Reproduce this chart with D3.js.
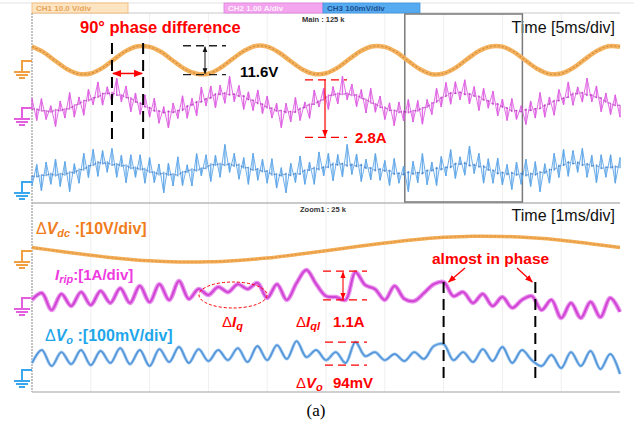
<!DOCTYPE html>
<html>
<head>
<meta charset="utf-8">
<script src="https://cdn.jsdelivr.net/npm/d3@7"></script>
<style>
  body { margin: 0; background: #fff; }
  svg { display: block; font-family: "Liberation Sans", Arial, sans-serif; }
</style>
</head>
<body>
<div id="chart"></div>
<script>
// ---- data ----
// main window, 0..50 ms
const mainVdc = [6.1, 3.7, 0.0, -3.5, -5.5, -5.3, -2.9, 0.8, 4.3, 6.3,
                 6.0, 3.8, 0.1, -3.4, -5.4, -5.4, -3.0, 0.7, 4.2, 6.4,
                 6.1, 3.6, -0.1, -3.6, -5.5, -5.2, -2.8, 0.9, 4.4, 6.3,
                 6.0, 3.7, 0.0, -3.5, -5.6, -5.3, -2.9, 0.8, 4.3, 6.2,
                 6.1, 3.8, 0.1, -3.4, -5.5, -5.3, -3.0, 0.7, 4.2, 6.3, 6.1]; // V, 1 ms step
const mainIrip = [0.41, -0.53, 0.40, -0.49, 0.10, -0.79, 0.30, -0.43, 0.66, -0.39, 0.47, -0.31, 0.79, 0.14, 1.11, 0.12, 0.90, 0.25, 1.27, 0.26, 0.94, -0.16, 0.64, -0.28, 0.56,
                  -0.39, 0.42, -0.65, 0.06, -0.85, 0.21, -0.45, 0.52, -0.44, 0.41, -0.33, 0.89, 0.09, 0.94, 0.01, 0.97, 0.20, 1.35, 0.27, 0.96, -0.06, 0.69, -0.11, 0.77, -0.24,
                  0.51, -0.43, 0.20, -0.84, 0.20, -0.59, 0.45, -0.53, 0.26, -0.44, 0.77, 0.04, 0.84, -0.06, 0.91, 0.17, 1.35, 0.35, 1.02, 0.06, 0.79, -0.21, 0.84, -0.18, 0.51,
                  -0.49, 0.22, -0.75, 0.26, -0.55, 0.36, -0.60, 0.32, -0.69, 0.36, -0.28, 0.84, 0.04, 1.09, 0.16, 1.12, 0.35, 1.20, 0.17, 0.91, -0.11, 0.84, -0.01, 0.72, -0.34,
                  0.38, -0.53, 0.40, -0.49, 0.10, -0.70, 0.30, -0.43, 0.66, -0.39, 0.47, -0.31, 0.79, 0.14, 1.11, 0.12, 0.90, 0.25, 1.27, 0.26, 0.94, -0.16, 0.64, -0.28, 0.56, -0.39]; // A, 0.4 ms step
const mainVo = [-17, 75, -37, 85, -10, 97, -19, 87, -41, 78, -5, 122, 19, 139, 24, 134, 41, 143, 20, 114, -3, 116, 20, 116, -5,
                104, -3, 77, -46, 80, -17, 107, -15, 73, -17, 121, 26, 116, 2, 114, 20, 160, 41, 122, 12, 104, -10, 122, 7, 97,
                -5, 99, -26, 61, -46, 80, -2, 111, -10, 85, -10, 128, 26, 122, 5, 117, 22, 160, 32, 119, 2, 97, 9, 121, 7,
                92, -15, 100, -5, 68, -41, 88, -3, 121, -12, 85, -15, 109, 26, 138, 15, 107, 29, 153, 36, 122, -5, 99, -5, 102,
                -12, 75, -32, 85, -10, 97, -19, 87, -41, 78, -5, 122, 19, 139, 24, 134, 41, 143, 20, 114, -3, 116, 20, 116, -5, 104]; // mV, 0.4 ms step

// zoom window, 0..10 ms
const zoomVdc = [1.5, -0.2, -1.8, -3.2, -4.2, -4.65, -4.6, -4.0, -3.0, -1.5, 0.1,
                 1.8, 3.4, 4.8, 5.8, 6.3, 6.2, 5.6, 4.6, 3.1, 1.5]; // V, 0.5 ms step
const zoomIrip = [-0.08, 0.21, -0.51, 0.17, -0.34, 0.25, -0.30, 0.30, -0.21, 0.42,
                  -0.21, 0.51, -0.17, 0.59, -0.08, 0.72, -0.04, 0.38, 0.13, 0.47,
                  0.25, 0.59, 0.38, 0.64, 0.00, 0.59, -0.08, 0.64, 1.19, 0.59,
                  0.08, 0.04, -0.08, 1.10, 0.55, 0.38, -0.08, 0.51, -0.04, -0.13,
                  0.21, 0.59, 0.68, 0.08, 0.25, -0.21, 0.17, -0.34, 0.04, -0.42,
                  -0.08, 0.08, -0.51, -0.08, -0.85, -0.21, -0.85, -0.17, -0.81, 0.00, -0.59]; // A, 1/6 ms step
const zoomVo = [30, 85, 17, 76, 25, 85, 21, 81, 30, 93,
                25, 85, 17, 89, 34, 98, 30, 89, 38, 85,
                42, 93, 34, 102, 42, 106, 47, 123, 55, 85,
                42, 76, 30, 119, 59, 76, 42, 68, 38, 76,
                47, 102, 110, 42, 76, 34, 89, 38, 98, 30,
                85, 42, 17, 64, 8, 76, 17, 81, 4, 68, -17]; // mV, 1/6 ms step

const channelLabels = ["CH1  10.0 V/div", "CH2  1.00 A/div", "CH3  100mV/div"];
const windowLabels = ["Main : 125 k", "Zoom1 : 25 k"];
const timeLabels = ["Time [5ms/div]", "Time [1ms/div]"];
const zoomSpan = [31.7, 41.7]; // ms of the main record shown below

// ---- layout ----
const W = 634, H = 427;
const left = 32, right = 620;
const divPx = 23.5;
const mainTop = 13, mainBot = 203, zoomBot = 392;

const svg = d3.select("#chart").append("svg").attr("width", W).attr("height", H);

const defs = svg.append("defs");
function arrow(id, color) {
  defs.append("marker").attr("id", id).attr("viewBox", "0 0 10 10")
    .attr("refX", 9).attr("refY", 5).attr("markerWidth", 6).attr("markerHeight", 6)
    .attr("orient", "auto-start-reverse")
    .append("path").attr("d", "M0,1L10,5L0,9z").attr("fill", color);
}
arrow("arR", "#f00");
arrow("arK", "#111");

const xMain = d3.scaleLinear().domain([0, 50]).range([left, right]);
const xZoom = d3.scaleLinear().domain([0, 10]).range([left, right]);

// y scale of one trace: ground level in px, units per division
function yTrace(ground, perDiv) {
  return d3.scaleLinear().domain([0, perDiv]).range([ground, ground - divPx]);
}
const yMV = yTrace(61, 10), yMI = yTrace(108, 1), yMO = yTrace(182, 100);
const yZV = yTrace(251, 10), yZI = yTrace(298, 1), yZO = yTrace(370, 100);

// faint graticule
const grid = svg.append("g").attr("stroke", "#efefef").attr("stroke-width", 1);
grid.selectAll(".gx").data(d3.range(1, 10)).join("line")
  .attr("x1", d => xMain(d * 5)).attr("x2", d => xMain(d * 5))
  .attr("y1", mainTop).attr("y2", zoomBot);

// frame
svg.append("line").attr("x1", 0).attr("x2", W).attr("y1", 3).attr("y2", 3).attr("stroke", "#e4e4e4");
svg.append("line").attr("x1", left).attr("x2", right).attr("y1", mainTop).attr("y2", mainTop).attr("stroke", "#c8c8c8");
svg.append("line").attr("x1", left).attr("x2", right).attr("y1", mainBot).attr("y2", mainBot).attr("stroke", "#b8b8b8").attr("stroke-width", 1.5);
svg.append("line").attr("x1", left).attr("x2", right).attr("y1", zoomBot).attr("y2", zoomBot).attr("stroke", "#c0c0c0").attr("stroke-width", 1.5);
svg.append("line").attr("x1", left).attr("x2", left).attr("y1", mainTop).attr("y2", zoomBot)
  .attr("stroke", "#b0b0b0").attr("stroke-width", 1.5).attr("stroke-dasharray", "2,1");

// channel boxes
const boxes = [
  { x0: 32, x1: 128, fill: "#fde4c2", stroke: "#f2b46a", text: "#e8a458" },
  { x0: 224, x1: 323, fill: "#f3a6ee", stroke: "#e080e0", text: "#fff0ff" },
  { x0: 323, x1: 420, fill: "#56aaf0", stroke: "#3f96e0", text: "#1d4f8f" }
];
boxes.forEach((b, i) => {
  svg.append("rect").attr("x", b.x0).attr("y", 3).attr("width", b.x1 - b.x0).attr("height", 10)
    .attr("fill", b.fill).attr("stroke", b.stroke).attr("stroke-width", 0.8);
  svg.append("text").attr("x", b.x0 + 4).attr("y", 11).attr("font-size", 8).attr("font-weight", "bold")
    .attr("fill", b.text).text(channelLabels[i]);
});

svg.append("text").attr("x", 302).attr("y", 22).attr("font-size", 7.5).attr("font-weight", "bold")
  .attr("fill", "#333").text(windowLabels[0]);
svg.append("text").attr("x", 300).attr("y", 212).attr("font-size", 7.5).attr("font-weight", "bold")
  .attr("fill", "#333").text(windowLabels[1]);
svg.append("text").attr("x", 615).attr("y", 33).attr("font-size", 16).attr("text-anchor", "end")
  .attr("fill", "#111").text(timeLabels[0]);
svg.append("text").attr("x", 615).attr("y", 221).attr("font-size", 16).attr("text-anchor", "end")
  .attr("fill", "#111").text(timeLabels[1]);

// zoom window box on main record
svg.append("rect").attr("x", xMain(zoomSpan[0])).attr("y", mainTop + 1)
  .attr("width", xMain(zoomSpan[1]) - xMain(zoomSpan[0])).attr("height", mainBot - mainTop - 2)
  .attr("fill", "none").attr("stroke", "#7a7a7a").attr("stroke-width", 1.5);

// ground markers
function groundMark(y0, color) {
  const g = svg.append("g").attr("stroke", color).attr("stroke-width", 2).attr("fill", "none");
  g.append("path").attr("d", `M${left},${y0}H22V${y0 + 11}`);
  g.append("path").attr("d", `M14,${y0 + 11}H30M16,${y0 + 14}H28M19,${y0 + 17}H25`);
}
groundMark(61, "#f0a040");
groundMark(108, "#e45ee0");
groundMark(182, "#3aa6ee");
groundMark(251, "#f0a040");
groundMark(298, "#e45ee0");
groundMark(370, "#3aa6ee");

// traces
function trace(data, step, x, y, curve) {
  return d3.line().x((d, i) => x(i * step)).y(d => y(d)).curve(curve)(data);
}
const traces = svg.append("g").attr("fill", "none").attr("stroke-linejoin", "round");

traces.append("path").attr("d", trace(mainVdc, 1, xMain, yMV, d3.curveCatmullRom))
  .attr("stroke", "#f5b25e").attr("stroke-width", 4.5);
traces.append("path").attr("d", trace(mainVdc, 1, xMain, yMV, d3.curveCatmullRom))
  .attr("stroke", "#b8752a").attr("stroke-width", 1.2).attr("stroke-dasharray", "2,2").attr("opacity", 0.6);

// noisy traces: vertical spikes from the local mean, then the sample-to-sample path
function noisy(data, step, y, light, dark) {
  const mean = data.map((d, i) => d3.mean(data.slice(Math.max(0, i - 3), i + 4)));
  traces.append("g").attr("stroke", light).attr("stroke-width", 1.4).attr("opacity", 0.9)
    .selectAll("line").data(data).join("line")
    .attr("x1", (d, i) => xMain(i * step)).attr("x2", (d, i) => xMain(i * step))
    .attr("y1", (d, i) => y(mean[i])).attr("y2", d => y(d));
  traces.append("path").attr("d", trace(data, step, xMain, y, d3.curveLinear))
    .attr("stroke", light).attr("stroke-width", 1).attr("opacity", 0.9);
  traces.append("path").attr("d", trace(mean, step, xMain, y, d3.curveBasis))
    .attr("stroke", dark).attr("stroke-width", 1.4).attr("opacity", 0.55)
    .attr("stroke-dasharray", "3,2");
}
noisy(mainIrip, 0.4, yMI, "#de5ee2", "#a81cb0");
noisy(mainVo, 0.4, yMO, "#5ea6e8", "#2a68b8");

traces.append("path").attr("d", trace(zoomVdc, 0.5, xZoom, yZV, d3.curveCatmullRom))
  .attr("stroke", "#f3ac55").attr("stroke-width", 3.5);
traces.append("path").attr("d", trace(zoomVdc, 0.5, xZoom, yZV, d3.curveCatmullRom))
  .attr("stroke", "#c47f2e").attr("stroke-width", 1).attr("stroke-dasharray", "2,2").attr("opacity", 0.55);

traces.append("path").attr("d", trace(zoomIrip, 1 / 6, xZoom, yZI, d3.curveCatmullRom))
  .attr("stroke", "#ea90ee").attr("stroke-width", 4.5);
traces.append("path").attr("d", trace(zoomIrip, 1 / 6, xZoom, yZI, d3.curveCatmullRom))
  .attr("stroke", "#d044d4").attr("stroke-width", 2);

traces.append("path").attr("d", trace(zoomVo, 1 / 6, xZoom, yZO, d3.curveCatmullRom))
  .attr("stroke", "#9cc6ee").attr("stroke-width", 3.2);
traces.append("path").attr("d", trace(zoomVo, 1 / 6, xZoom, yZO, d3.curveCatmullRom))
  .attr("stroke", "#4f92d8").attr("stroke-width", 1.4);

// ---- annotations ----
const ann = svg.append("g");
function seg(x1, y1, x2, y2, color, w, dash) {
  return ann.append("line").attr("x1", x1).attr("y1", y1).attr("x2", x2).attr("y2", y2)
    .attr("stroke", color).attr("stroke-width", w).attr("stroke-dasharray", dash || null);
}

// 90 degree phase difference (times in ms of main record)
const phaseT = [6.8, 9.45];
phaseT.forEach(t => seg(xMain(t), 43, xMain(t), 142, "#000", 2, "11,6"));
seg(xMain(phaseT[0]) + 1, yMV(-5.3), xMain(phaseT[1]) - 1, yMV(-5.3), "#f00", 1.5)
  .attr("marker-start", "url(#arR)").attr("marker-end", "url(#arR)");
ann.append("text").attr("x", 80).attr("y", 33).attr("font-size", 16.5).attr("font-weight", "bold")
  .attr("fill", "#f00").text("90° phase difference");

// 11.6 V
const vdcPk = [6.5, -5.8];
vdcPk.forEach(v => seg(183, yMV(v), 226, yMV(v), "#222", 1.3, "8,5"));
seg(205, yMV(vdcPk[0]) + 1, 205, yMV(vdcPk[1]) - 1, "#111", 1)
  .attr("marker-start", "url(#arK)").attr("marker-end", "url(#arK)");
ann.append("text").attr("x", 240).attr("y", 77).attr("font-size", 15).attr("font-weight", "bold")
  .attr("fill", "#000").text("11.6V");

// 2.8 A
const iripPk = [1.2, -1.25];
iripPk.forEach(v => seg(305, yMI(v), 347, yMI(v), "#f00", 1.3, "8,5"));
seg(325, yMI(iripPk[0]), 325, yMI(iripPk[1]) - 1, "#f00", 1.2).attr("marker-end", "url(#arR)");
ann.append("text").attr("x", 355).attr("y", 143).attr("font-size", 15).attr("font-weight", "bold")
  .attr("fill", "#f00").text("2.8A");

// channel scale labels in zoom panel
function sciLabel(x, y, color, sym, sub, rest, delta) {
  const t = ann.append("text").attr("x", x).attr("y", y).attr("font-size", 16)
    .attr("font-weight", "bold").attr("fill", color);
  if (delta) t.append("tspan").attr("font-weight", "normal").text("Δ");
  t.append("tspan").attr("font-style", "italic").text(sym);
  t.append("tspan").attr("font-style", "italic").attr("font-size", 11).attr("dy", 3).text(sub);
  t.append("tspan").attr("dy", -3).text(rest);
  return t;
}
sciLabel(36, 234, "#f07c1c", "V", "dc", " :[10V/div]", true);
sciLabel(55, 280, "#ee3ae0", "I", "rip", ":[1A/div]", false).attr("font-size", 15);
sciLabel(45, 341, "#1ea6ea", "V", "o", " :[100mV/div]", true);

// ripple ellipse
ann.append("ellipse").attr("cx", 233).attr("cy", 295).attr("rx", 34).attr("ry", 13)
  .attr("fill", "none").attr("stroke", "#f00").attr("stroke-width", 1).attr("stroke-dasharray", "3,2");
sciLabel(222, 327, "#f00", "I", "q", "", true).attr("font-size", 15);
sciLabel(296, 327, "#f00", "I", "ql", "", true).attr("font-size", 15);
ann.append("text").attr("x", 333).attr("y", 327).attr("font-size", 15).attr("font-weight", "bold")
  .attr("fill", "#f00").text("1.1A");

// 1.1 A ripple
const iqlPk = [1.14, -0.08];
iqlPk.forEach(v => seg(323, yZI(v), 367, yZI(v), "#f00", 1.3, "8,5"));
seg(343, yZI(iqlPk[0]) + 1, 343, yZI(iqlPk[1]) - 1, "#f00", 1.1)
  .attr("marker-start", "url(#arR)").attr("marker-end", "url(#arR)");

// 94 mV ripple
const voPk = [119, 21];
voPk.forEach(v => seg(325, yZO(v), 367, yZO(v), "#f00", 1.3, "8,5"));
sciLabel(296, 388, "#f00", "V", "o", "", true).attr("font-size", 15);
ann.append("text").attr("x", 333).attr("y", 388).attr("font-size", 15).attr("font-weight", "bold")
  .attr("fill", "#f00").text("94mV");

// almost in phase
const inPhaseT = [7.0, 8.56];
inPhaseT.forEach(t => seg(xZoom(t), 282, xZoom(t), 381, "#000", 2, "11,6"));
ann.append("text").attr("x", 432).attr("y", 264).attr("font-size", 15.5).attr("font-weight", "bold")
  .attr("fill", "#f00").text("almost in phase");
seg(465, 268, xZoom(inPhaseT[0]) + 5, 282, "#f00", 1.3).attr("marker-end", "url(#arR)");
seg(517, 268, xZoom(inPhaseT[1]) - 3, 282, "#f00", 1.3).attr("marker-end", "url(#arR)");

svg.append("text").attr("x", 316).attr("y", 416).attr("text-anchor", "middle")
  .attr("font-family", "Liberation Serif, serif").attr("font-size", 17).text("(a)");
</script>
</body>
</html>
